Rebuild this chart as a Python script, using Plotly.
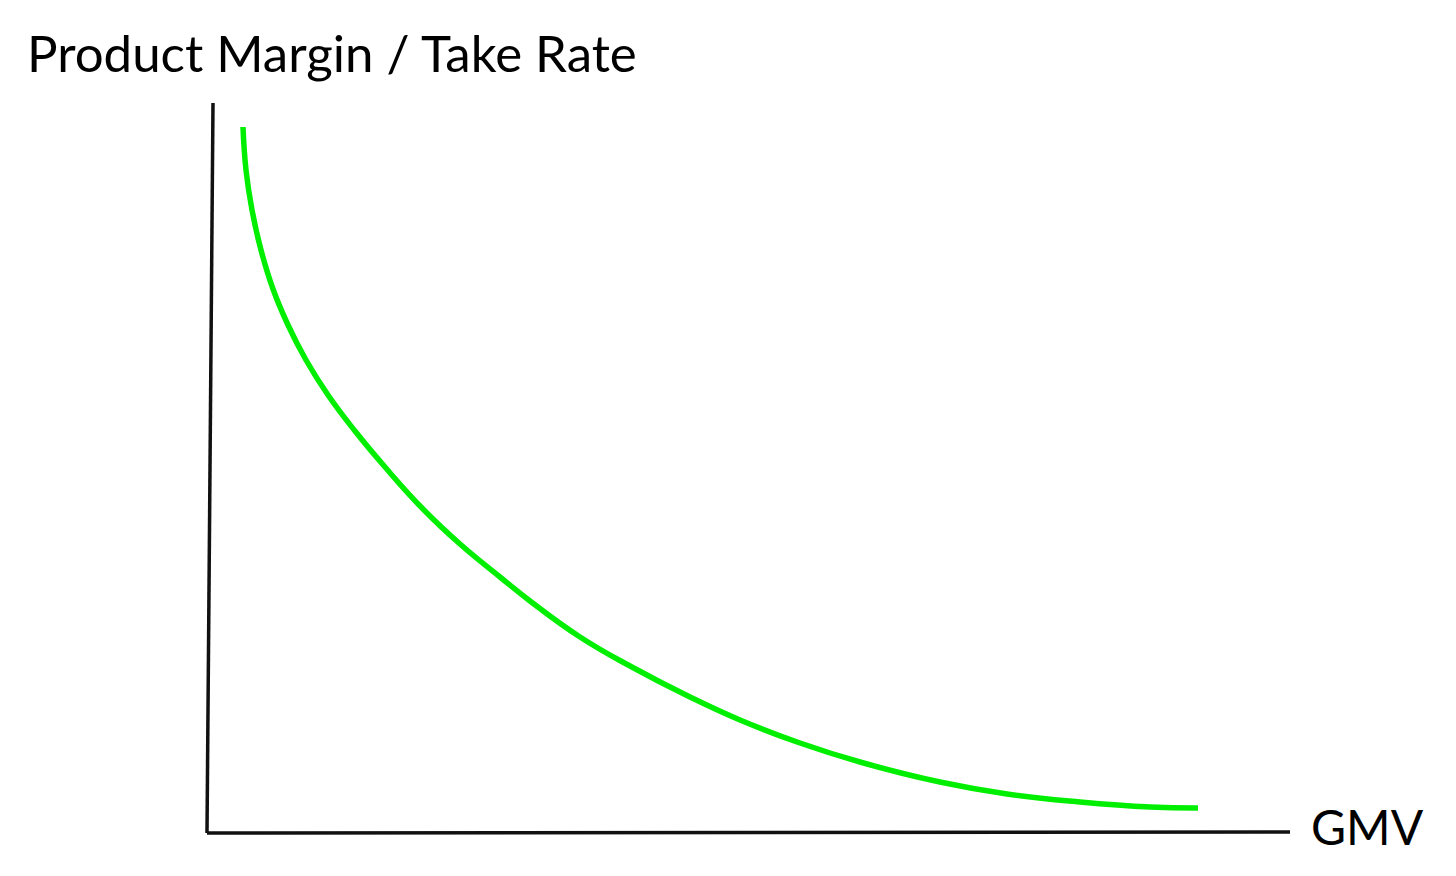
import plotly.graph_objects as go

# Conceptual curve: GMV (x) vs Product Margin / Take Rate (y), in arbitrary units
gmv = [36, 39, 45, 54, 66, 81, 99, 121, 148, 178, 215, 253, 293, 323, 373,
       423, 483, 533, 593, 653, 733, 800, 873, 943, 991]
margin = [706, 663, 623, 583, 544, 508, 473, 438, 402, 366, 325, 289, 256, 232, 196,
          167, 136, 113, 90, 71, 51, 39, 31, 26, 25]

# Axis lines (conceptual, slightly hand-drawn)
xaxis_x = [0, 1083]
xaxis_y = [0, 1]
yaxis_x = [0, 6]
yaxis_y = [0, 730]

title_text = "Product Margin / Take Rate"
x_label = "GMV"

OFF = 8  # default page body margin in the browser

fig = go.Figure()
fig.add_trace(go.Scatter(x=xaxis_x, y=xaxis_y, mode="lines",
                         line=dict(color="#111111", width=3.5), hoverinfo="skip"))
fig.add_trace(go.Scatter(x=yaxis_x, y=yaxis_y, mode="lines",
                         line=dict(color="#111111", width=3.5), hoverinfo="skip"))
fig.add_trace(go.Scatter(x=gmv, y=margin, mode="lines",
                         line=dict(color="#00EE00", width=5.5, shape="spline", smoothing=1.3),
                         hoverinfo="skip"))

fig.update_layout(
    width=1456, height=876,
    margin=dict(l=0, r=0, t=0, b=0),
    paper_bgcolor="white", plot_bgcolor="white",
    showlegend=False,
    xaxis=dict(range=[-207 + OFF, 1249 + OFF], visible=False, fixedrange=True),
    yaxis=dict(range=[-43 - OFF, 833 - OFF], visible=False, fixedrange=True),
    annotations=[
        dict(text=title_text, x=(25 - OFF) / 1456, y=1 - (52 - OFF) / 876,
             xref="paper", yref="paper",
             xanchor="left", yanchor="middle", showarrow=False,
             font=dict(family="Lato", size=51, color="black")),
        dict(text=x_label, x=(1309 - OFF) / 1456, y=1 - (826 - OFF) / 876,
             xref="paper", yref="paper",
             xanchor="left", yanchor="middle", showarrow=False,
             font=dict(family="Lato", size=48, color="black")),
    ],
)

fig.write_html("out.html")
